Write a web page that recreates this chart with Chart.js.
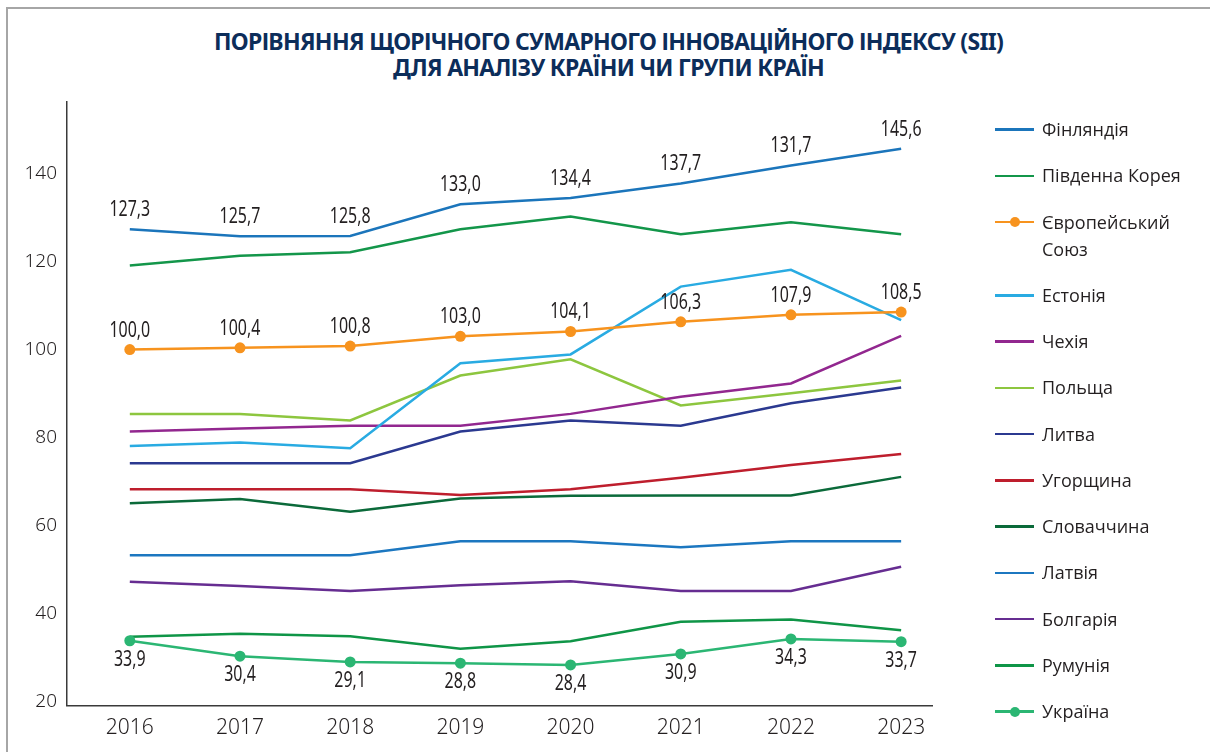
<!DOCTYPE html>
<html>
<head>
<meta charset="utf-8">
<script src="https://cdn.jsdelivr.net/npm/chart.js@4.4.1/dist/chart.umd.min.js"></script>
<style>
html,body{margin:0;padding:0;background:#fff;}
body{width:1210px;height:752px;position:relative;overflow:hidden;}
#frame{position:absolute;left:6px;top:7px;width:1220px;height:760px;border-left:2px solid #a6a6a6;border-top:2px solid #a6a6a6;}
#title{position:absolute;left:0;width:1217px;top:29px;text-align:center;font-family:"Noto Sans","DejaVu Sans",sans-serif;font-weight:bold;font-size:23px;letter-spacing:-0.7px;line-height:25.7px;color:#0c2d5a;}
#c{position:absolute;left:0;top:0;}
#legend{position:absolute;left:995px;top:116px;font-family:"Open Sans",sans-serif;font-size:18px;color:#231f20;}
.item{display:flex;align-items:flex-start;margin-bottom:19.25px;line-height:27px;white-space:pre-line;}
.sym{width:39px;height:27px;position:relative;margin-right:8px;flex:none;}
.sym .ln{position:absolute;left:0;right:0;top:12.25px;height:2.5px;}
.sym .dt{position:absolute;left:14.5px;top:8.5px;width:10px;height:10px;border-radius:50%;}
</style>
</head>
<body>
<div id="frame"></div>
<div id="title">ПОРІВНЯННЯ ЩОРІЧНОГО СУМАРНОГО ІННОВАЦІЙНОГО ІНДЕКСУ (SII)<br>ДЛЯ АНАЛІЗУ КРАЇНИ ЧИ ГРУПИ КРАЇН</div>
<canvas id="c" width="1210" height="752"></canvas>
<div id="legend"></div>
<script>
// ---- data ----
const years = [2016, 2017, 2018, 2019, 2020, 2021, 2022, 2023];
const yTicks = [20, 40, 60, 80, 100, 120, 140];

const finland     = [127.3, 125.7, 125.8, 133.0, 134.4, 137.7, 141.8, 145.6];
const finlandText = [127.3, 125.7, 125.8, 133.0, 134.4, 137.7, 131.7, 145.6];
const southKorea  = [119.1, 121.3, 122.1, 127.3, 130.2, 126.2, 128.9, 126.2];
const eu          = [100.0, 100.4, 100.8, 103.0, 104.1, 106.3, 107.9, 108.5];
const estonia     = [78.1, 78.9, 77.6, 96.9, 98.9, 114.3, 118.1, 106.7];
const czechia     = [81.4, 82.1, 82.7, 82.7, 85.4, 89.3, 92.3, 103.1];
const poland      = [85.4, 85.4, 83.9, 94.1, 97.8, 87.3, 90.1, 93.0];
const lithuania   = [74.2, 74.2, 74.2, 81.4, 83.9, 82.7, 87.8, 91.4];
const hungary     = [68.3, 68.3, 68.3, 67.0, 68.3, 70.9, 73.8, 76.3];
const slovakia    = [65.1, 66.1, 63.2, 66.2, 66.8, 66.9, 66.9, 71.1];
const latvia      = [53.3, 53.3, 53.3, 56.5, 56.5, 55.1, 56.5, 56.5];
const bulgaria    = [47.3, 46.3, 45.2, 46.5, 47.4, 45.2, 45.2, 50.7];
const romania     = [34.8, 35.5, 34.9, 32.1, 33.8, 38.2, 38.7, 36.3];
const ukraine     = [33.9, 30.4, 29.1, 28.8, 28.4, 30.9, 34.3, 33.7];

const names = ["Фінляндія", "Південна Корея", "Європейський\nСоюз", "Естонія", "Чехія", "Польща",
               "Литва", "Угорщина", "Словаччина", "Латвія", "Болгарія", "Румунія", "Україна"];
const colors = ["#1b75bb", "#13964a", "#f7931e", "#29abe2", "#92278f", "#8dc63f",
                "#2b3990", "#be1e2d", "#0b6a3a", "#1c77c0", "#662d91", "#0f9547", "#2bb673"];
const series = [finland, southKorea, eu, estonia, czechia, poland, lithuania, hungary,
                slovakia, latvia, bulgaria, romania, ukraine];
const markers = [false, false, true, false, false, false, false, false, false, false, false, false, true];
// label placement: key = series index
const labelCfg = {0: {pos: -19, text: finlandText}, 2: {pos: -19, text: eu}, 12: {pos: 19, text: ukraine}};

const FAMILY = '"Noto Sans","DejaVu Sans",sans-serif';

const datasets = series.map((vals, i) => ({
  label: names[i],
  data: years.map((y, k) => ({x: y, y: vals[k]})),
  borderColor: colors[i],
  backgroundColor: colors[i],
  borderWidth: 2.5,
  pointRadius: markers[i] ? 5.5 : 0,
  pointHoverRadius: markers[i] ? 5.5 : 0,
  pointBorderWidth: 0,
  pointBackgroundColor: colors[i],
  tension: 0,
  order: markers[i] ? 0 : 1
}));

const labelPlugin = {
  id: 'valueLabels',
  afterDatasetsDraw(chart) {
    const ctx = chart.ctx;
    Object.keys(labelCfg).forEach(k => {
      const cfg = labelCfg[k];
      const meta = chart.getDatasetMeta(+k);
      meta.data.forEach((pt, j) => {
        const t = cfg.text[j].toFixed(1).replace('.', ',');
        ctx.save();
        ctx.font = '400 21px ' + FAMILY;
        ctx.fillStyle = '#231f20';
        ctx.textAlign = 'center';
        ctx.textBaseline = 'middle';
        ctx.translate(pt.x, pt.y + cfg.pos);
        ctx.scale(0.76, 1);
        ctx.fillText(t, 0, 0);
        ctx.restore();
      });
    });
  }
};

new Chart(document.getElementById('c'), {
  type: 'line',
  data: {datasets},
  options: {
    responsive: false,
    animation: false,
    events: [],
    layout: {padding: {left: 0, top: 102, right: 278, bottom: 0}},
    plugins: {legend: {display: false}, title: {display: false}, tooltip: {enabled: false}},
    scales: {
      x: {
        type: 'linear',
        min: 2015.43,
        max: 2023.28,
        afterBuildTicks: s => { s.ticks = years.map(v => ({value: v})); },
        afterFit: s => { s.height = 46.5; },
        grid: {display: false, drawTicks: false},
        border: {display: true, color: '#3a3a3a', width: 1.5},
        ticks: {
          font: {family: FAMILY, size: 21, weight: 300},
          color: '#231f20',
          padding: 10,
          maxRotation: 0,
          autoSkip: false,
          callback: v => String(v)
        }
      },
      y: {
        type: 'linear',
        min: 19.2,
        max: 156.2,
        afterBuildTicks: s => { s.ticks = yTicks.map(v => ({value: v})); },
        afterFit: s => { s.width = 67; },
        grid: {display: false, drawTicks: false},
        border: {display: true, color: '#3a3a3a', width: 1.5},
        ticks: {
          font: {family: FAMILY, size: 19, weight: 300},
          color: '#231f20',
          padding: 10,
          callback: v => String(v)
        }
      }
    }
  },
  plugins: [labelPlugin]
});

// ---- HTML legend built from the same arrays ----
const lg = document.getElementById('legend');
names.forEach((n, i) => {
  const it = document.createElement('div');
  it.className = 'item';
  const sym = document.createElement('div');
  sym.className = 'sym';
  const ln = document.createElement('div');
  ln.className = 'ln';
  ln.style.background = colors[i];
  sym.appendChild(ln);
  if (markers[i]) {
    const dt = document.createElement('div');
    dt.className = 'dt';
    dt.style.background = colors[i];
    sym.appendChild(dt);
  }
  const tx = document.createElement('div');
  tx.textContent = n;
  it.appendChild(sym);
  it.appendChild(tx);
  lg.appendChild(it);
});
</script>
</body>
</html>
